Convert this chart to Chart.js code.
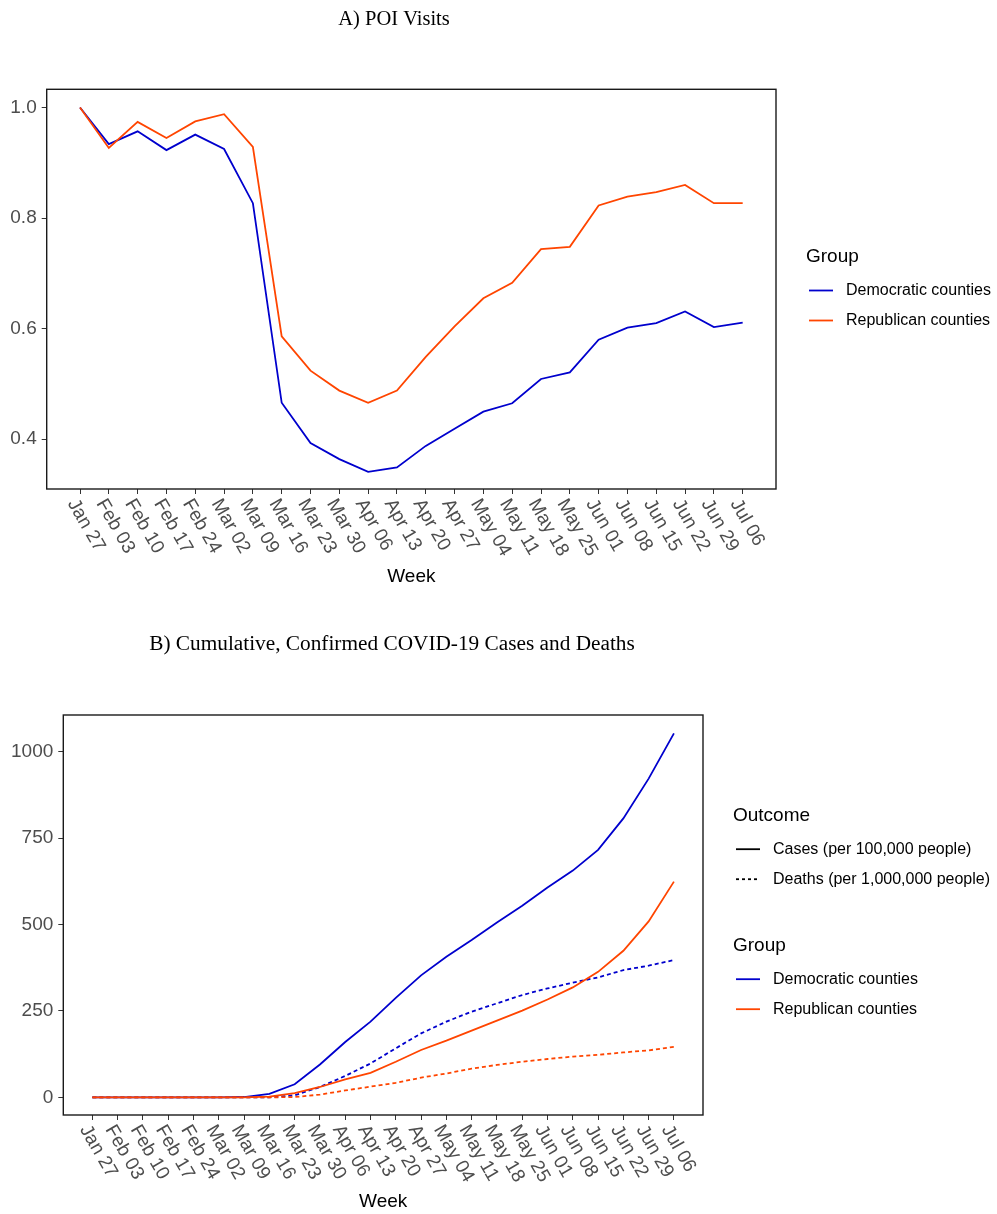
<!DOCTYPE html>
<html>
<head>
<meta charset="utf-8">
<script src="https://cdn.jsdelivr.net/npm/chart.js@4"></script>
<style>
  body { margin: 0; background: #fff; width: 997px; height: 1214px; overflow: hidden; }
  .box { position: absolute; left: 0; width: 997px; }
  #boxA { top: 0; height: 600px; }
  #boxB { top: 610px; height: 604px; }
</style>
</head>
<body>
<div class="box" id="boxA"><canvas id="poi" width="997" height="600"></canvas></div>
<div class="box" id="boxB"><canvas id="covid" width="997" height="604"></canvas></div>
<script>
const weeks = ['Jan 27', 'Feb 03', 'Feb 10', 'Feb 17', 'Feb 24', 'Mar 02', 'Mar 09', 'Mar 16',
  'Mar 23', 'Mar 30', 'Apr 06', 'Apr 13', 'Apr 20', 'Apr 27', 'May 04', 'May 11', 'May 18',
  'May 25', 'Jun 01', 'Jun 08', 'Jun 15', 'Jun 22', 'Jun 29', 'Jul 06'];

// POI visits relative to the first week
const poiDem = [1.0, 0.934, 0.957, 0.923, 0.951, 0.925, 0.827, 0.466, 0.393, 0.364, 0.341, 0.349,
  0.388, 0.419, 0.450, 0.465, 0.509, 0.521, 0.580, 0.602, 0.610, 0.631, 0.603, 0.611];
const poiRep = [1.0, 0.927, 0.974, 0.945, 0.975, 0.988, 0.929, 0.586, 0.524, 0.488, 0.466, 0.488,
  0.549, 0.604, 0.655, 0.683, 0.744, 0.748, 0.823, 0.839, 0.847, 0.860, 0.827, 0.827];

// cumulative cases per 100k, deaths per 1M
const casesDem = [0, 0, 0, 0, 0, 0, 1, 10, 38, 95, 160, 219, 288, 353, 407, 455, 506, 554, 607, 656, 716, 807, 922, 1053];
const casesRep = [0, 0, 0, 0, 0, 0, 0, 2, 12, 30, 52, 71, 103, 137, 164, 193, 222, 251, 283, 318, 363, 424, 509, 624];
const deathsDem = [0, 0, 0, 0, 0, 0, 0, 0, 6, 30, 62, 98, 142, 185, 219, 248, 272, 296, 315, 332, 347, 368, 381, 397];
const deathsRep = [0, 0, 0, 0, 0, 0, 0, 0, 1, 8, 20, 31, 42, 57, 69, 83, 94, 103, 111, 118, 123, 130, 136, 146];

const poiTicks = [0.4, 0.6, 0.8, 1.0];
const covidTicks = [0, 250, 500, 750, 1000];

const sans = "'Liberation Sans', Arial, sans-serif";
const serif = "'Liberation Serif', 'Times New Roman', serif";
const BLUE = '#0000CD';
const RED = '#FF4500';

const pts = vals => vals.map((v, i) => ({ x: i, y: v }));

function line(label, vals, color, dash, order) {
  return {
    label, data: pts(vals), borderColor: color, backgroundColor: color,
    borderWidth: 1.8, borderDash: dash || [], pointRadius: 0, tension: 0, order
  };
}

// panel box, turned week labels, titles and the legend groups
function frame(opts) {
  return {
    id: 'frame',
    afterDraw(chart) {
      const { ctx, chartArea: a } = chart;
      const x = chart.scales.x;
      ctx.save();
      ctx.strokeStyle = '#1a1a1a';
      ctx.lineWidth = 1.4;
      ctx.strokeRect(a.left, a.top, a.right - a.left, a.bottom - a.top);

      ctx.fillStyle = '#4D4D4D';
      ctx.font = '19px ' + sans;
      ctx.textAlign = 'left';
      ctx.textBaseline = 'top';
      weeks.forEach((w, i) => {
        ctx.save();
        ctx.translate(x.getPixelForValue(i), a.bottom + opts.labelGap);
        ctx.rotate(Math.PI / 3);
        ctx.fillText(w, 0, 0);
        ctx.restore();
      });

      ctx.fillStyle = '#000';
      ctx.textAlign = 'center';
      ctx.textBaseline = 'middle';
      ctx.fillText('Week', (a.left + a.right) / 2, opts.weekY);

      ctx.font = opts.titleSize + 'px ' + serif;
      ctx.textBaseline = 'alphabetic';
      ctx.fillText(opts.title, opts.titleX, opts.titleY);

      ctx.textAlign = 'left';
      opts.legend.forEach(g => {
        ctx.font = '19px ' + sans;
        ctx.fillStyle = '#000';
        ctx.textBaseline = 'alphabetic';
        ctx.fillText(g.title, opts.legendX, g.y);
        ctx.font = '16px ' + sans;
        ctx.textBaseline = 'middle';
        g.items.forEach((it, k) => {
          const yy = g.y + 28.5 + k * 30;
          ctx.beginPath();
          ctx.strokeStyle = it.color;
          ctx.lineWidth = 1.8;
          ctx.setLineDash(it.dash || []);
          ctx.moveTo(opts.legendX + 3, yy);
          ctx.lineTo(opts.legendX + 27, yy);
          ctx.stroke();
          ctx.setLineDash([]);
          ctx.fillStyle = '#000';
          ctx.fillText(it.label, opts.legendX + 40, yy);
        });
      });
      ctx.restore();
    }
  };
}

function scales(xMin, xMax, yMin, yMax, yTicks, yWidth, xHeight, fmt) {
  return {
    x: {
      type: 'linear', min: xMin, max: xMax,
      afterBuildTicks: s => { s.ticks = weeks.map((w, i) => ({ value: i })); },
      afterFit: s => { s.height = xHeight; },
      ticks: { display: false },
      grid: { drawOnChartArea: false, drawTicks: true, tickLength: 5, color: '#333', lineWidth: 1 },
      border: { display: false }
    },
    y: {
      min: yMin, max: yMax,
      afterBuildTicks: s => { s.ticks = yTicks.map(v => ({ value: v })); },
      afterFit: s => { s.width = yWidth; },
      ticks: { color: '#4D4D4D', font: { family: sans, size: 19 }, padding: 5, callback: fmt },
      grid: { drawOnChartArea: false, drawTicks: true, tickLength: 5, color: '#333', lineWidth: 1 },
      border: { display: false }
    }
  };
}

const common = {
  responsive: false,
  animation: false,
  plugins: { legend: { display: false }, tooltip: { enabled: false } }
};

new Chart(document.getElementById('poi'), {
  type: 'line',
  data: {
    datasets: [
      line('Democratic counties', poiDem, BLUE, null, 1),
      line('Republican counties', poiRep, RED, null, 0)
    ]
  },
  options: {
    ...common,
    layout: { padding: { top: 89.3, right: 221, left: 0, bottom: 0 } },
    scales: scales(-1.156, 24.156, 0.31, 1.033, poiTicks, 46.7, 111, v => v.toFixed(1))
  },
  plugins: [frame({
    title: 'A) POI Visits', titleSize: 20.5, titleX: 394, titleY: 25, labelGap: 7, weekY: 577, legendX: 806,
    legend: [{
      title: 'Group', y: 262, items: [
        { label: 'Democratic counties', color: BLUE },
        { label: 'Republican counties', color: RED }
      ]
    }]
  })]
});

new Chart(document.getElementById('covid'), {
  type: 'line',
  data: {
    datasets: [
      line('Democratic counties cases', casesDem, BLUE, null, 3),
      line('Republican counties cases', casesRep, RED, null, 1),
      line('Democratic counties deaths', deathsDem, BLUE, [4, 3], 2),
      line('Republican counties deaths', deathsRep, RED, [4, 3], 0)
    ]
  },
  options: {
    ...common,
    layout: { padding: { top: 105, right: 294, left: 0, bottom: 0 } },
    scales: scales(-1.15, 24.15, -51, 1106, covidTicks, 63.3, 99, v => String(v))
  },
  plugins: [frame({
    title: 'B) Cumulative, Confirmed COVID-19 Cases and Deaths', titleSize: 21.3, titleX: 392, titleY: 40,
    labelGap: 7, weekY: 592, legendX: 733,
    legend: [{
      title: 'Outcome', y: 210.7, items: [
        { label: 'Cases (per 100,000 people)', color: '#000' },
        { label: 'Deaths (per 1,000,000 people)', color: '#000', dash: [3, 3] }
      ]
    }, {
      title: 'Group', y: 340.7, items: [
        { label: 'Democratic counties', color: BLUE },
        { label: 'Republican counties', color: RED }
      ]
    }]
  })]
});
</script>
</body>
</html>
